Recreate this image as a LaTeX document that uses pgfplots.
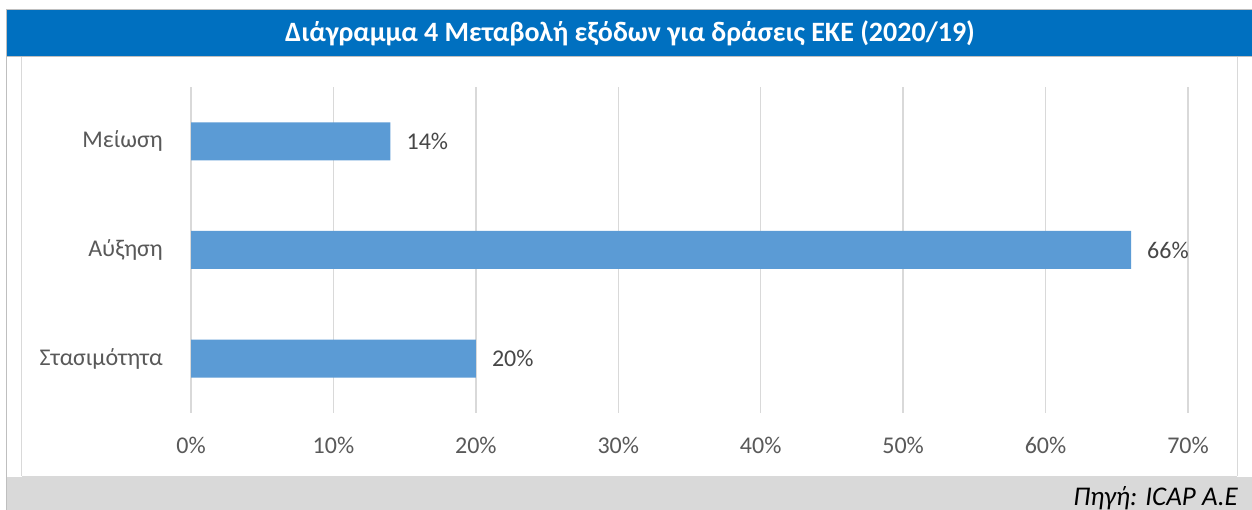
\documentclass[border=0pt]{standalone}
\usepackage{fontspec}
\setmainfont{Carlito}
\usepackage{pgfplots}
\pgfplotsset{compat=1.18}

\definecolor{titleblue}{HTML}{0070C0}
\definecolor{barblue}{HTML}{5B9BD5}
\definecolor{gridgrey}{HTML}{D9D9D9}
\definecolor{bandgrey}{HTML}{D9D9D9}
\definecolor{framegrey}{HTML}{BFBFBF}
\definecolor{labelgrey}{HTML}{595959}

\begin{document}
\begin{tikzpicture}[x=1bp,y=1bp]
\path[use as bounding box] (0,0) rectangle (1252,510);
% frame
\fill[white] (0,0) rectangle (1252,510);
\fill[titleblue] (7,454) rectangle (1252,500);
\fill[bandgrey] (7,0) rectangle (1252,33);
\draw[framegrey, line width=1.5bp] (6.5,0) -- (6.5,500.5) -- (1252,500.5);
\draw[framegrey, line width=1bp] (7,453.5) -- (1252,453.5);
\draw[gridgrey, line width=1bp] (21.5,34) -- (21.5,453) (1237,34) -- (1237,453);
\draw[gridgrey, line width=1.5bp] (21.5,33.5) -- (1237,33.5);
\node[text=white, font=\fontsize{28bp}{32bp}\selectfont\bfseries] at (630,477)
  {Διάγραμμα 4 Μεταβολή εξόδων για δράσεις ΕΚΕ (2020/19)};
\node[anchor=base east, inner sep=0, text=black, font=\fontsize{27bp}{31bp}\selectfont\itshape]
  at (1238,4.5) {Πηγή: ICAP A.E};

\begin{axis}[
  at={(191bp,97bp)}, anchor=south west,
  scale only axis, width=997bp, height=326bp,
  xbar, bar width=38bp,
  xmin=0, xmax=70, ymin=-0.5, ymax=2.5,
  xtick={0,10,...,70}, ytick={0,1,2},
  yticklabels={Στασιμότητα,Αύξηση,Μείωση},
  xticklabel={\pgfmathprintnumber{\tick}\%},
  /pgf/number format/assume math mode=true,
  axis line style={draw=none}, major tick length=0pt,
  xmajorgrids, grid style={gridgrey, line width=1.3bp},
  tick label style={font=\fontsize{24bp}{28bp}\selectfont, text=labelgrey, inner sep=0pt},
  xticklabel style={anchor=north, yshift=-24bp},
  yticklabel style={anchor=east, xshift=-28bp},
  nodes near coords={\pgfmathprintnumber{\pgfplotspointmeta}\%},
  point meta=x,
  nodes near coords style={font=\fontsize{24bp}{28bp}\selectfont, text=labelgrey!80!black,
    anchor=west, inner sep=0pt, xshift=16bp,
    /pgf/number format/assume math mode=true},
]
\addplot[fill=barblue, draw=none] coordinates {(20,0) (66,1) (14,2)};
\end{axis}
\end{tikzpicture}
\end{document}
